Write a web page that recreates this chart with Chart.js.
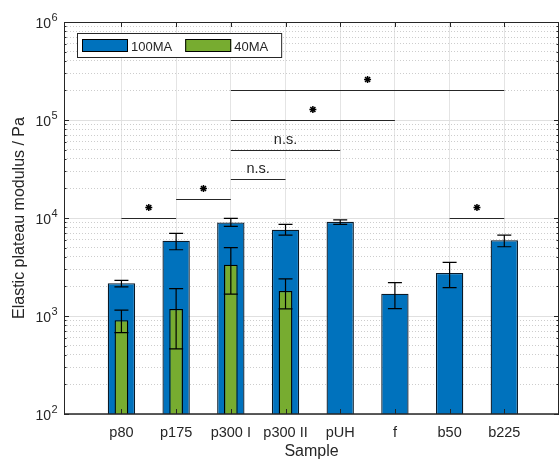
<!DOCTYPE html>
<html>
<head>
<meta charset="utf-8">
<script src="https://cdn.jsdelivr.net/npm/chart.js@4.4.0/dist/chart.umd.min.js"></script>
<style>
    html, body { margin: 0; padding: 0; background: #fff; }
    #wrap { width: 559px; height: 461px; }
</style>
</head>
<body>
<div id="wrap"><canvas id="modulusChart" width="559" height="461"></canvas></div>
<script>
// samples along the x axis
var samples = ['p80', 'p175', 'p300 I', 'p300 II', 'pUH', 'f', 'b50', 'b225'];

// 100MA series (Pa) with the lower / upper ends of its error bars
var ma100 = [2160, 5860, 9020, 7590, 9140, 1690, 2750, 5920];
var ma100Low = [1980, 4740, 8200, 6700, 8610, 1190, 1950, 5090];
var ma100High = [2310, 6970, 9910, 8610, 9590, 2190, 3530, 6700];

// 40MA series, only for the first four samples
var ma40 = [906, 1180, 3340, 1800];
var ma40Low = [678, 462, 1670, 1180];
var ma40High = [1150, 1900, 4980, 2390];

// significance brackets: from sample, to sample, height (Pa), label
var sigFrom = ['p80', 'p175', 'p300 I', 'p300 I', 'p300 I', 'p300 I', 'b50'];
var sigTo = ['p175', 'p300 I', 'p300 II', 'pUH', 'f', 'b225', 'b225'];
var sigLevel = [1e4, 1.55e4, 2.5e4, 5e4, 1e5, 2e5, 1e4];
var sigLabel = ['*', '*', 'n.s.', 'n.s.', '*', '*', '*'];

// decades labelled on the y axis (10^n)
var decades = [2, 3, 4, 5, 6];

var AXIS = '#262626';
var FONT = "'Liberation Sans', Arial, Helvetica, sans-serif";

function isDecade(v) {
    var l = Math.log10(v);
    return Math.abs(l - Math.round(l)) < 1e-9;
}

function xOf(chart, name) {
    return chart.scales.x.getPixelForValue(samples.indexOf(name) + 1);
}

// error bars for every bar
var errorBarPlugin = {
    id: 'errorBars',
    afterDatasetsDraw: function (chart) {
        var ctx = chart.ctx;
        var yScale = chart.scales.y;
        chart.data.datasets.forEach(function (ds, di) {
            var meta = chart.getDatasetMeta(di);
            ctx.save();
            ctx.strokeStyle = '#000';
            ctx.lineWidth = 1.2;
            meta.data.forEach(function (bar, i) {
                var top = yScale.getPixelForValue(ds.errHigh[i]);
                var bottom = yScale.getPixelForValue(ds.errLow[i]);
                ctx.beginPath();
                ctx.moveTo(bar.x, top);
                ctx.lineTo(bar.x, bottom);
                ctx.moveTo(bar.x - 7, top);
                ctx.lineTo(bar.x + 7, top);
                ctx.moveTo(bar.x - 7, bottom);
                ctx.lineTo(bar.x + 7, bottom);
                ctx.stroke();
            });
            ctx.restore();
        });
    }
};

// significance lines with * / n.s.
var significancePlugin = {
    id: 'significance',
    afterDatasetsDraw: function (chart) {
        var ctx = chart.ctx;
        var yScale = chart.scales.y;
        ctx.save();
        ctx.strokeStyle = AXIS;
        ctx.fillStyle = AXIS;
        ctx.lineWidth = 1;
        for (var k = 0; k < sigFrom.length; k++) {
            var x1 = xOf(chart, sigFrom[k]);
            var x2 = xOf(chart, sigTo[k]);
            var yy = Math.round(yScale.getPixelForValue(sigLevel[k])) + 0.5;
            ctx.beginPath();
            ctx.moveTo(x1, yy);
            ctx.lineTo(x2, yy);
            ctx.stroke();
            var mid = (x1 + x2) / 2;
            if (sigLabel[k] === '*') {
                // matlab style asterisk marker
                var cy = yy - 11, r = 3.5, q = r * 0.72;
                ctx.beginPath();
                ctx.moveTo(mid - r, cy); ctx.lineTo(mid + r, cy);
                ctx.moveTo(mid, cy - r); ctx.lineTo(mid, cy + r);
                ctx.moveTo(mid - q, cy - q); ctx.lineTo(mid + q, cy + q);
                ctx.moveTo(mid - q, cy + q); ctx.lineTo(mid + q, cy - q);
                ctx.lineWidth = 1.5;
                ctx.strokeStyle = '#000';
                ctx.stroke();
                ctx.lineWidth = 1;
                ctx.strokeStyle = AXIS;
            } else {
                ctx.font = '14.5px ' + FONT;
                ctx.textAlign = 'center';
                ctx.textBaseline = 'alphabetic';
                ctx.fillText(sigLabel[k], mid, yy - 6.5);
            }
        }
        ctx.restore();
    }
};

// axes box, inward ticks, decade labels and the boxed legend
var axesPlugin = {
    id: 'axesBox',
    afterDraw: function (chart) {
        var ctx = chart.ctx;
        var a = chart.chartArea;
        var xScale = chart.scales.x, yScale = chart.scales.y;
        ctx.save();
        ctx.strokeStyle = AXIS;
        ctx.lineWidth = 1;

        // box
        ctx.beginPath();
        ctx.moveTo(a.left + 0.5, a.top + 0.5);
        ctx.lineTo(a.right - 0.5, a.top + 0.5);
        ctx.lineTo(a.right - 0.5, a.bottom);
        ctx.moveTo(a.left + 0.5, a.top);
        ctx.lineTo(a.left + 0.5, a.bottom);
        ctx.stroke();
        ctx.lineWidth = 1.6;
        ctx.beginPath();
        ctx.moveTo(a.left, a.bottom);
        ctx.lineTo(a.right, a.bottom);
        ctx.stroke();

        // y ticks on left and right
        ctx.lineWidth = 1;
        ctx.beginPath();
        yScale.ticks.forEach(function (t) {
            var yy = Math.round(yScale.getPixelForValue(t.value)) + 0.5;
            var len = isDecade(t.value) ? 5 : 2.5;
            ctx.moveTo(a.left, yy); ctx.lineTo(a.left + len, yy);
            ctx.moveTo(a.right, yy); ctx.lineTo(a.right - len, yy);
        });
        // x ticks on bottom and top
        xScale.ticks.forEach(function (t) {
            var xx = Math.round(xScale.getPixelForValue(t.value)) + 0.5;
            ctx.moveTo(xx, a.bottom); ctx.lineTo(xx, a.bottom - 5);
            ctx.moveTo(xx, a.top); ctx.lineTo(xx, a.top + 5);
        });
        ctx.stroke();

        // decade labels 10^n
        ctx.fillStyle = AXIS;
        ctx.textBaseline = 'alphabetic';
        decades.forEach(function (d) {
            var yy = yScale.getPixelForValue(Math.pow(10, d));
            ctx.font = '14px ' + FONT;
            ctx.textAlign = 'right';
            ctx.fillText('10', a.left - 13, yy + 6);
            ctx.font = '11px ' + FONT;
            ctx.textAlign = 'left';
            ctx.fillText(String(d), a.left - 12.5, yy - 1);
        });

        // legend
        var x0 = a.left + 13, y0 = a.top + 11, h = 24;
        ctx.font = '13px ' + FONT;
        var items = chart.data.datasets.slice().sort(function (p, q) { return q.order - p.order; });
        var widths = items.map(function (ds) { return ctx.measureText(ds.label).width; });
        var w = 5;
        widths.forEach(function (tw) { w += 46 + 3 + tw + 13; });
        ctx.fillStyle = '#fff';
        ctx.fillRect(x0, y0, w, h);
        ctx.strokeStyle = AXIS;
        ctx.lineWidth = 1;
        ctx.strokeRect(x0 + 0.5, y0 + 0.5, w, h);
        var cx = x0 + 5;
        items.forEach(function (ds, i) {
            ctx.fillStyle = ds.backgroundColor;
            ctx.fillRect(cx, y0 + 6, 46, 13);
            ctx.strokeStyle = '#000';
            ctx.strokeRect(cx + 0.5, y0 + 6.5, 45, 12);
            ctx.fillStyle = AXIS;
            ctx.textAlign = 'left';
            ctx.fillText(ds.label, cx + 49, y0 + 18);
            cx += 46 + 3 + widths[i] + 13;
        });
        ctx.restore();
    }
};

function yTicks() {
    var list = [];
    for (var e = 2; e < 6; e++) {
        for (var s = 1; s <= 9; s++) {
            list.push({ value: s * Math.pow(10, e), major: s === 1 });
        }
    }
    list.push({ value: 1e6, major: true });
    return list;
}

Chart.defaults.font.family = FONT;
Chart.defaults.color = AXIS;

var ctx = document.getElementById('modulusChart').getContext('2d');
var modulusChart = new Chart(ctx, {
    type: 'bar',
    data: {
        datasets: [{
            label: '100MA',
            data: ma100.map(function (v, i) { return { x: i + 1, y: v }; }),
            errLow: ma100Low,
            errHigh: ma100High,
            backgroundColor: '#0072BD',
            borderColor: '#0a1a28',
            borderWidth: 1.3,
            barPercentage: 0.5,
            order: 2
        }, {
            label: '40MA',
            data: ma40.map(function (v, i) { return { x: i + 1, y: v }; }),
            errLow: ma40Low,
            errHigh: ma40High,
            backgroundColor: '#77AC30',
            borderColor: '#000',
            borderWidth: 1.3,
            barPercentage: 0.25,
            order: 1
        }]
    },
    options: {
        responsive: false,
        animation: false,
        grouped: false,
        categoryPercentage: 1,
        layout: { padding: { top: 22, right: 0, bottom: 0, left: 0 } },
        plugins: {
            legend: { display: false },
            tooltip: { enabled: false }
        },
        scales: {
            x: {
                type: 'linear',
                min: -0.05,
                max: 9,
                offset: false,
                afterBuildTicks: function (scale) {
                    scale.ticks = samples.map(function (s, i) { return { value: i + 1 }; });
                },
                afterFit: function (scale) { scale.height = 47; },
                ticks: {
                    padding: 10,
                    autoSkip: false,
                    maxRotation: 0,
                    font: { size: 14.5 },
                    color: AXIS,
                    callback: function (value) { return samples[value - 1] || ''; }
                },
                grid: { offset: false, drawTicks: false, color: '#e4e4e4', lineWidth: 1 },
                border: { display: false },
                title: {
                    display: true,
                    text: 'Sample',
                    font: { size: 16 },
                    color: AXIS,
                    padding: { top: 0, bottom: 0 }
                }
            },
            y: {
                type: 'logarithmic',
                min: 100,
                max: 1e6,
                afterBuildTicks: function (scale) { scale.ticks = yTicks(); },
                afterFit: function (scale) { scale.width = 64; },
                ticks: { display: false },
                grid: {
                    drawTicks: false,
                    lineWidth: 1,
                    color: function (c) {
                        if (!c.tick) return '#e4e4e4';
                        return isDecade(c.tick.value) ? '#e0e0e0' : '#cdcdcd';
                    }
                },
                border: {
                    display: false,
                    dash: function (c) {
                        if (!c.tick || isDecade(c.tick.value)) return [];
                        return [1, 2];
                    }
                },
                title: {
                    display: true,
                    text: 'Elastic plateau modulus / Pa',
                    font: { size: 16 },
                    color: AXIS,
                    padding: { top: 10, bottom: 0 }
                }
            }
        }
    },
    plugins: [errorBarPlugin, significancePlugin, axesPlugin]
});
</script>
</body>
</html>
